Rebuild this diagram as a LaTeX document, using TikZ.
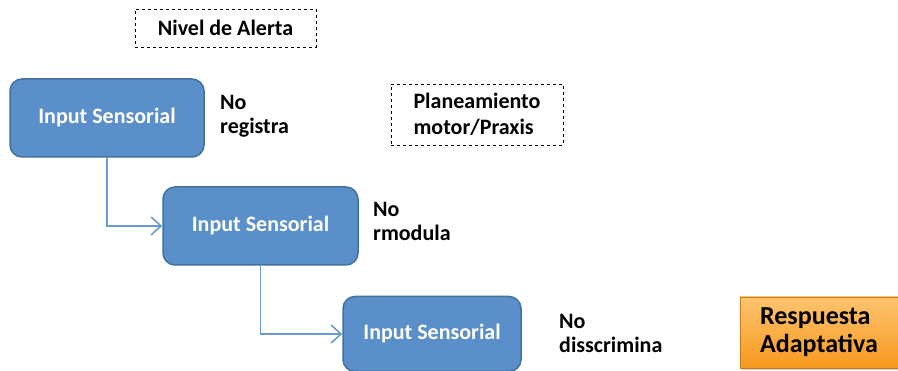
\documentclass[tikz,border=0pt]{standalone}
\usepackage{fontspec}
\setmainfont{Carlito}
\usetikzlibrary{arrows.meta,positioning,shadows}
\definecolor{inputBlue}{HTML}{5B8FC9}
\definecolor{inputEdge}{HTML}{41719C}
\definecolor{linkBlue}{HTML}{6C9BD2}
\definecolor{respTop}{HTML}{FCC46E}
\definecolor{respBottom}{HTML}{F7981F}

\begin{document}
\begin{tikzpicture}[x=1pt,y=-1pt,
    sensor/.style={draw=inputEdge,line width=1.5pt,fill=inputBlue,rounded corners=12pt,
      text=white,font=\fontsize{22}{25}\selectfont\bfseries,minimum height=78pt},
    note/.style={draw,dashed,line width=0.9pt,font=\fontsize{22}{26}\selectfont\bfseries,align=left},
    remark/.style={anchor=west,inner sep=0pt,font=\fontsize{22}{24}\selectfont\bfseries,align=left},
    link/.style={draw=linkBlue,line width=1.4pt,-{Straight Barb[length=10pt,width=18pt,line width=1.6pt]}}]
    \useasboundingbox (0,0) rectangle (898,371);

    % Dashed note boxes
    \node[note,minimum width=181pt,minimum height=38pt] (alerta) at (225.5,28) {Nivel de Alerta};
    \node[note,minimum width=172pt,minimum height=61pt] (praxis) at (477,114.5) {Planeamiento\\motor/Praxis};

    % Input sensorial boxes
    \node[sensor,minimum width=194pt] (input1) at (107,118) {Input Sensorial};
    \node[sensor,minimum width=195pt] (input2) at (260.5,226) {Input Sensorial};
    \node[sensor,minimum width=178pt,minimum height=75pt] (input3) at (432,334) {Input Sensorial};

    % Side remarks
    \node[remark] (registra) at (220,116) {No\\registra};
    \node[remark] (modula) at (373,221) {No\\rmodula};
    \node[remark] (discrimina) at (559,333) {No\\disscrimina};

    % Adaptive response
    \node[draw=respBottom!80!black,line width=0.6pt,top color=respTop,bottom color=respBottom,
      drop shadow={opacity=0.35,shadow xshift=2pt,shadow yshift=-2pt},
      minimum width=158pt,minimum height=71pt,align=left,
      font=\fontsize{26}{28}\selectfont\bfseries] (respuesta) at (819,332.5) {Respuesta\\Adaptativa};

    % Connectors between the boxes
    \draw[link] (input1.south) |- (input2.west);
    \draw[link] (input2.south) |- (input3.west);
\end{tikzpicture}
\end{document}
